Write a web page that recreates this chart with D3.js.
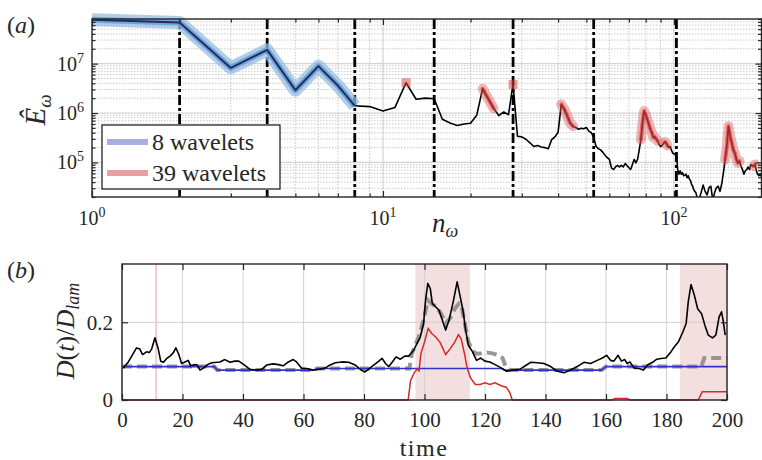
<!DOCTYPE html>
<html>
<head>
<meta charset="utf-8">
<script src="https://cdn.jsdelivr.net/npm/d3@7"></script>
<style>
  body { margin: 0; background: #fff; }
</style>
</head>
<body>
<svg id="fig" width="762" height="460"></svg>
<script>
// ---------- panel (a): energy spectrum ----------
const coarseN = [1, 2, 3, 4, 5, 6, 7, 8];
const coarseE = [7.7e7, 6.8e7, 8.2e6, 1.9e7, 2.9e6, 8.9e6, 3.6e6, 1.4e6];

const modeN = [
  8, 9, 10, 11, 12, 13, 14, 15, 16, 17, 18, 19, 20, 21, 22, 23, 24, 25, 26, 27,
  28, 29, 30, 31, 32, 33, 34, 35, 36, 37, 38, 39, 40, 41, 42, 43, 44, 45, 46, 47,
  48, 49, 50, 51, 52, 53, 54, 55, 56, 57, 58, 59, 60, 61, 62, 63, 64, 65, 66, 67,
  68, 69, 70, 71, 72, 73, 74, 75, 76, 77, 78, 79, 80, 81, 82, 83, 84, 85, 86, 87,
  88, 89, 90, 91, 92, 93, 94, 95, 96, 97, 98, 99, 100, 101, 102, 103, 104, 105, 106, 107,
  108, 109, 110, 111, 112, 113, 114, 115, 116, 117, 118, 119, 120, 122, 124, 126, 128, 130, 132, 134,
  136, 138, 140, 142, 144, 146, 148, 150, 152, 154, 156, 158, 160, 162, 164, 166, 168, 170, 172, 174,
  176, 178, 180, 182, 184, 186, 188, 190, 192, 194, 196, 198, 200
];
const modeE = [
  1.4e6, 1.35e6, 1.1e6, 1.3e6, 4.1e6, 1.9e6, 2.0e6, 1.95e6, 7.5e5, 6.3e5, 5.6e5, 6.0e5, 6.2e5, 9.0e5, 3.1e6, 1.95e6, 1.25e6, 8.9e5, 1.05e6, 9.3e5,
  3.8e6, 3.4e5, 3.3e5, 2.95e5, 2.5e5, 2.1e5, 2.2e5, 2.05e5, 2.0e5, 1.9e5, 2.9e5, 3.3e5, 4.1e5, 1.5e6, 1.2e6, 8.7e5, 6.3e5, 5.4e5, 5.1e5, 4.7e5,
  4.9e5, 4.8e5, 5.1e5, 4.3e5, 4.0e5, 3.2e5, 2.1e5, 1.9e5, 1.8e5, 1.6e5, 1.4e5, 1.25e5, 1.15e5, 7.8e4, 7.2e4, 8.1e4, 8.7e4, 8.1e4, 8.7e4, 8.1e4,
  9.5e4, 8.7e4, 7.8e4, 7.2e4, 9.1e4, 1.15e5, 9.8e4, 1.15e5, 1.8e5, 2.9e5, 6.3e5, 1.1e6, 9.3e5, 7.4e5, 5.9e5, 4.7e5, 4.0e5, 3.2e5, 3.3e5, 2.95e5,
  2.7e5, 2.3e5, 2.1e5, 2.2e5, 2.4e5, 2.6e5, 2.5e5, 2.2e5, 2.0e5, 2.1e5, 1.8e5, 1.55e5, 1.5e5, 1.45e5, 1.55e5, 7.2e4, 5.8e4, 6.8e4, 5.8e4, 6.2e4,
  5.4e4, 5.5e4, 5.8e4, 4.9e4, 5.4e4, 4.6e4, 4.3e4, 3.6e4, 3.3e4, 2.8e4, 2.6e4, 2.45e4, 2.0e4, 1.8e4, 2.45e4, 3.5e4, 2.6e4, 2.2e4, 3.1e4, 3.3e4,
  1.7e4, 2.45e4, 3.1e4, 3.3e4, 2.6e4, 3.7e4, 6.3e4, 1.15e5, 2.1e5, 5.4e5, 3.4e5, 2.5e5, 1.8e5, 1.55e5, 1.15e5, 9.8e4, 1.07e5, 8.5e4, 7.2e4, 5.8e4,
  6.8e4, 7.2e4, 8.1e4, 7.2e4, 9.1e4, 8.5e4, 8.5e4, 9.1e4, 6.8e4, 5.8e4, 5.4e4, 5.8e4, 5.2e4
];

// boundaries between the 8 coarse wavelets
const waveletBounds = [2, 4, 8, 15, 28, 53, 102];
// mode ranges resolved by the 39-wavelet basis
const fineBands = [[12, 12], [22, 24], [28, 28], [41, 45], [77, 88], [93, 95], [150, 168], [188, 190]];

const xMajorA = [1, 10, 100];
const yMajorA = [1e5, 1e6, 1e7];

// ---------- panel (b): dissipation time series ----------
const timeTicks = [0, 20, 40, 60, 80, 100, 120, 140, 160, 180, 200];
const dTicks = [0, 0.2];
const shadeSpans = [[97, 115], [184.5, 200]];
const markTimes = [11.3];

const fullT = [
  0.4, 2.1, 4.8, 5.9, 6.8, 8.1, 9.0, 9.8, 10.9, 12.0, 12.8, 13.7, 14.8, 15.9, 17.0, 17.8, 18.7, 19.7, 20.8, 21.9,
  22.7, 23.8, 24.9, 25.8, 26.9, 28.3, 29.7, 31.3, 32.4, 34.0, 35.7, 37.3, 38.6, 40.3, 42.3, 44.5, 46.2, 47.8, 50.0, 51.7,
  53.3, 55.0, 56.6, 57.7, 59.4, 61.0, 63.2, 65.4, 67.1, 68.3, 70.5, 72.7, 74.9, 77.1, 78.8, 80.2, 81.5, 83.2, 84.6, 86.0,
  87.1, 88.2, 89.3, 90.6, 92.0, 93.5, 94.8, 96.4, 97.5, 98.6, 99.7, 100.4, 101.1, 101.9, 102.6, 103.7, 104.8, 105.9, 107.0, 108.1,
  109.5, 110.8, 111.7, 112.8, 113.6, 114.5, 115.8, 117.2, 118.6, 120.0, 121.6, 123.3, 125.5, 127.1, 129.3, 131.5, 133.7, 135.1, 137.3, 139.5,
  141.7, 143.9, 146.1, 148.3, 150.5, 152.7, 154.9, 157.1, 158.8, 160.2, 161.5, 162.6, 164.0, 165.1, 166.2, 167.0, 167.9, 169.3, 170.9, 172.4,
  173.7, 175.4, 176.8, 178.2, 179.8, 181.3, 182.6, 183.9, 185.4, 186.5, 187.2, 188.1, 189.2, 190.3, 191.6, 192.7, 193.8, 195.2, 196.3, 197.4,
  198.2, 198.8, 199.4
];
const fullD = [
  0.082, 0.098, 0.134, 0.131, 0.117, 0.124, 0.122, 0.131, 0.160, 0.131, 0.100, 0.097, 0.107, 0.113, 0.122, 0.134, 0.119, 0.094, 0.098, 0.102,
  0.088, 0.091, 0.090, 0.077, 0.082, 0.091, 0.096, 0.097, 0.098, 0.104, 0.097, 0.100, 0.100, 0.091, 0.079, 0.077, 0.079, 0.090, 0.093, 0.091,
  0.088, 0.098, 0.104, 0.098, 0.082, 0.081, 0.077, 0.079, 0.082, 0.088, 0.096, 0.098, 0.097, 0.090, 0.079, 0.072, 0.079, 0.090, 0.098, 0.107,
  0.094, 0.086, 0.097, 0.111, 0.105, 0.113, 0.113, 0.128, 0.145, 0.162, 0.197, 0.261, 0.300, 0.287, 0.248, 0.240, 0.231, 0.205, 0.180, 0.205,
  0.253, 0.304, 0.270, 0.227, 0.180, 0.141, 0.125, 0.102, 0.108, 0.100, 0.098, 0.091, 0.082, 0.074, 0.077, 0.079, 0.090, 0.097, 0.096, 0.094,
  0.086, 0.074, 0.070, 0.077, 0.086, 0.097, 0.094, 0.102, 0.108, 0.115, 0.102, 0.100, 0.115, 0.100, 0.104, 0.094, 0.098, 0.082, 0.081, 0.077,
  0.090, 0.097, 0.105, 0.107, 0.108, 0.122, 0.137, 0.149, 0.175, 0.197, 0.253, 0.297, 0.270, 0.235, 0.222, 0.192, 0.167, 0.160, 0.167, 0.214,
  0.227, 0.201, 0.167
];

const coarseT = [0, 30.5, 31.5, 63.5, 64.5, 125.5, 126.5, 158.5, 160, 200];
const coarseD = [0.086, 0.086, 0.077, 0.077, 0.081, 0.081, 0.077, 0.077, 0.086, 0.086];

const modelT = [
  0, 30.5, 31.5, 63.5, 64.5, 95.0, 95.8, 96.6, 98.0, 99.7, 101.1, 102.3, 104.0, 105.7, 107.0, 108.4, 110.0, 111.4, 112.2, 113.4,
  114.5, 115.8, 117.2, 119.0, 120.6, 122.5, 124.2, 125.8, 126.6, 127.5, 128.5, 158.5, 160, 191.5, 192.5, 200
];
const modelD = [
  0.086, 0.086, 0.077, 0.077, 0.081, 0.081, 0.118, 0.135, 0.160, 0.206, 0.257, 0.248, 0.240, 0.219, 0.197, 0.210, 0.235, 0.248, 0.244, 0.193,
  0.150, 0.127, 0.119, 0.120, 0.122, 0.120, 0.116, 0.108, 0.091, 0.080, 0.077, 0.077, 0.086, 0.086, 0.108, 0.108
];

const fineT = [
  0, 94.6, 95.4, 96.6, 97.6, 98.2, 98.8, 100.0, 101.2, 102.4, 103.7, 105.1, 107.0, 108.4, 110.0, 111.2, 112.1, 113.3, 114.1, 115.2,
  116.8, 118.4, 120.0, 121.6, 123.3, 125.5, 127.0, 128.2, 129.0, 162.0, 163.0, 167.0, 168.0, 190.5, 191.8, 200
];
const fineD = [
  0, 0, 0.050, 0.070, 0.080, 0.075, 0.119, 0.149, 0.184, 0.171, 0.162, 0.149, 0.117, 0.131, 0.149, 0.168, 0.158, 0.116, 0.082, 0.057,
  0.040, 0.040, 0.044, 0.040, 0.044, 0.036, 0.033, 0.019, 0, 0, 0.004, 0.004, 0, 0, 0.021, 0.021
];

// ================= drawing =================
const ink = "#262626";
const serifFont = "Liberation Serif";
const svg = d3.select("#fig").attr("font-family", serifFont);

function isDecade(v) {
  const l = Math.log10(v);
  return Math.abs(l - Math.round(l)) < 1e-9;
}

function addText(g) {
  return g.append("text").attr("font-family", serifFont).attr("fill", ink);
}

function powerLabel(sel, exp, size, supSize) {
  sel.append("tspan").attr("font-size", size).text("10");
  sel.append("tspan").attr("font-size", supSize).attr("dy", -8).text(exp);
}

// ---------- panel (a) ----------
const A = { l: 92, r: 761.5, t: 19, b: 197 };
const xA = d3.scaleLog().domain([1, 200]).range([A.l, A.r]);
const yA = d3.scaleLog().domain([2e4, 8e7]).range([A.b, A.t]);

svg.append("clipPath").attr("id", "clipA").append("rect")
  .attr("x", A.l).attr("y", A.t).attr("width", A.r - A.l).attr("height", A.b - A.t);

const gA = svg.append("g");
const gridA = gA.append("g").attr("clip-path", "url(#clipA)");

const xTicksA = xA.ticks();
const yTicksA = yA.ticks();

gridA.selectAll("line.vx").data(xTicksA).join("line")
  .attr("x1", d => xA(d)).attr("x2", d => xA(d)).attr("y1", A.t).attr("y2", A.b)
  .attr("stroke", d => isDecade(d) ? "#d4d4d4" : "#bdbdbd")
  .attr("stroke-width", d => isDecade(d) ? 1.2 : 0.8)
  .attr("stroke-dasharray", d => isDecade(d) ? null : "1.5,1.5");

gridA.selectAll("line.hy").data(yTicksA).join("line")
  .attr("y1", d => yA(d)).attr("y2", d => yA(d)).attr("x1", A.l).attr("x2", A.r)
  .attr("stroke", d => isDecade(d) ? "#d4d4d4" : "#bdbdbd")
  .attr("stroke-width", d => isDecade(d) ? 1.2 : 0.8)
  .attr("stroke-dasharray", d => isDecade(d) ? null : "1.5,1.5");

// wavelet boundaries
gridA.selectAll("line.wb").data(waveletBounds).join("line")
  .attr("x1", d => xA(d)).attr("x2", d => xA(d)).attr("y1", A.t).attr("y2", A.b)
  .attr("stroke", "#000").attr("stroke-width", 2.8)
  .attr("stroke-dasharray", "10,3,3,3");

// full spectrum
const modePts = d3.zip(modeN, modeE);
const lineA = d3.line().x(d => xA(d[0])).y(d => yA(d[1]));
gA.append("path").attr("clip-path", "url(#clipA)")
  .attr("d", lineA(modePts)).attr("fill", "none")
  .attr("stroke", "#000").attr("stroke-width", 1.6).attr("stroke-linejoin", "round");

// 39-wavelet resolved ranges
const gFine = gA.append("g").attr("clip-path", "url(#clipA)");
fineBands.forEach(([a, b]) => {
  const pts = modePts.filter(p => p[0] >= a && p[0] <= b);
  if (pts.length === 1) {
    const [n, e] = pts[0];
    gFine.append("rect").attr("x", xA(n) - 4.5).attr("y", yA(e) - 4.5)
      .attr("width", 9).attr("height", 9).attr("fill", "rgba(220,70,70,0.55)");
  } else {
    gFine.append("path").attr("d", lineA(pts)).attr("fill", "none")
      .attr("stroke", "rgba(225,90,90,0.45)").attr("stroke-width", 10)
      .attr("stroke-linejoin", "round").attr("stroke-linecap", "round");
    gFine.append("path").attr("d", lineA(pts)).attr("fill", "none")
      .attr("stroke", "rgba(200,40,40,0.55)").attr("stroke-width", 4)
      .attr("stroke-linejoin", "round").attr("stroke-linecap", "round");
  }
});

// 8-wavelet spectrum
const coarsePts = d3.zip(coarseN, coarseE);
gA.append("path").attr("d", lineA(coarsePts)).attr("fill", "none")
  .attr("stroke", "rgba(150,190,225,0.75)").attr("stroke-width", 13).attr("stroke-linejoin", "round");
gA.append("path").attr("d", lineA(coarsePts)).attr("fill", "none")
  .attr("stroke", "rgba(95,150,205,0.75)").attr("stroke-width", 6).attr("stroke-linejoin", "round");
gA.append("path").attr("d", lineA(coarsePts)).attr("fill", "none")
  .attr("stroke", "#1b2f66").attr("stroke-width", 2).attr("stroke-linejoin", "round");

// axes (ticks inward on all sides)
function tickAxes(g, xs, ys, box, xMaj, yMaj, xMin, yMin) {
  const add = (axis, tr) => {
    const s = g.append("g").attr("transform", tr).call(axis);
    s.select(".domain").remove();
    s.selectAll(".tick line").attr("stroke", ink).attr("stroke-width", 1.2);
    s.selectAll(".tick text").remove();
  };
  const maj = 6, mn = 3.5;
  add(d3.axisBottom(xs).tickValues(xMaj).tickSize(-maj).tickSizeOuter(0), `translate(0,${box.b})`);
  add(d3.axisTop(xs).tickValues(xMaj).tickSize(-maj).tickSizeOuter(0), `translate(0,${box.t})`);
  add(d3.axisLeft(ys).tickValues(yMaj).tickSize(-maj).tickSizeOuter(0), `translate(${box.l},0)`);
  add(d3.axisRight(ys).tickValues(yMaj).tickSize(-maj).tickSizeOuter(0), `translate(${box.r},0)`);
  if (xMin) {
    add(d3.axisBottom(xs).tickValues(xMin).tickSize(-mn).tickSizeOuter(0), `translate(0,${box.b})`);
    add(d3.axisTop(xs).tickValues(xMin).tickSize(-mn).tickSizeOuter(0), `translate(0,${box.t})`);
  }
  if (yMin) {
    add(d3.axisLeft(ys).tickValues(yMin).tickSize(-mn).tickSizeOuter(0), `translate(${box.l},0)`);
    add(d3.axisRight(ys).tickValues(yMin).tickSize(-mn).tickSizeOuter(0), `translate(${box.r},0)`);
  }
  g.append("rect").attr("x", box.l).attr("y", box.t)
    .attr("width", box.r - box.l).attr("height", box.b - box.t)
    .attr("fill", "none").attr("stroke", ink).attr("stroke-width", 1.4);
}
tickAxes(gA, xA, yA, A, xMajorA, yMajorA,
  xTicksA.filter(d => !isDecade(d)), yTicksA.filter(d => !isDecade(d)));

// tick labels
xMajorA.forEach(v => {
  const t = addText(gA).attr("x", xA(v)).attr("y", A.b + 28).attr("text-anchor", "middle");
  powerLabel(t, Math.round(Math.log10(v)), 20, 14);
});
yMajorA.forEach(v => {
  const t = addText(gA).attr("x", A.l - 8).attr("y", yA(v) + 7).attr("text-anchor", "end");
  powerLabel(t, Math.round(Math.log10(v)), 20, 14);
});

// labels
addText(gA).attr("x", 7).attr("y", 33).attr("font-size", 24)
  .html('(<tspan font-style="italic">a</tspan>)');
const yl = addText(gA).attr("transform", "translate(45,110) rotate(-90)")
  .attr("text-anchor", "middle");
yl.append("tspan").attr("font-size", 29).attr("font-style", "italic").text("Ê");
yl.append("tspan").attr("font-size", 19).attr("font-style", "italic").attr("dy", 6).text("ω");
const xl = addText(gA).attr("x", 445).attr("y", 232).attr("text-anchor", "middle");
xl.append("tspan").attr("font-size", 27).attr("font-style", "italic").text("n");
xl.append("tspan").attr("font-size", 18).attr("font-style", "italic").attr("dy", 5).text("ω");

// legend
const leg = gA.append("g");
leg.append("rect").attr("x", 102).attr("y", 125).attr("width", 178).attr("height", 64)
  .attr("fill", "#fff").attr("stroke", ink).attr("stroke-width", 1.3);
const legItems = [
  { label: "8 wavelets", color: "#a9ade9", y: 142 },
  { label: "39 wavelets", color: "#e8a1a1", y: 173 }
];
legItems.forEach(it => {
  leg.append("line").attr("x1", 107).attr("x2", 148).attr("y1", it.y).attr("y2", it.y)
    .attr("stroke", it.color).attr("stroke-width", 6);
  addText(leg).attr("x", 152).attr("y", it.y + 8).attr("font-size", 24).text(it.label);
});

// ---------- panel (b) ----------
const B = { l: 122, r: 727, t: 264, b: 400 };
const xB = d3.scaleLinear().domain([0, 200]).range([B.l, B.r]);
const yB = d3.scaleLinear().domain([0, 0.35]).range([B.b, B.t]);

svg.append("clipPath").attr("id", "clipB").append("rect")
  .attr("x", B.l).attr("y", B.t - 2).attr("width", B.r - B.l).attr("height", B.b - B.t + 4);

const gB = svg.append("g");

gB.selectAll("rect.shade").data(shadeSpans).join("rect")
  .attr("x", d => xB(d[0])).attr("width", d => xB(d[1]) - xB(d[0]))
  .attr("y", B.t).attr("height", B.b - B.t).attr("fill", "#f3dfdf");
gB.selectAll("line.mark").data(markTimes).join("line")
  .attr("x1", d => xB(d)).attr("x2", d => xB(d)).attr("y1", B.t).attr("y2", B.b)
  .attr("stroke", "#f2cccc").attr("stroke-width", 2);

gB.selectAll("line.gx").data(timeTicks).join("line")
  .attr("x1", d => xB(d)).attr("x2", d => xB(d)).attr("y1", B.t).attr("y2", B.b)
  .attr("stroke", "#d0d0d0").attr("stroke-width", 1.2).attr("stroke-opacity", 0.8);
gB.selectAll("line.gy").data(dTicks).join("line")
  .attr("y1", d => yB(d)).attr("y2", d => yB(d)).attr("x1", B.l).attr("x2", B.r)
  .attr("stroke", "#d0d0d0").attr("stroke-width", 1.2).attr("stroke-opacity", 0.8);

const lineB = d3.line().x(d => xB(d[0])).y(d => yB(d[1]));
const gLines = gB.append("g").attr("clip-path", "url(#clipB)");

gLines.append("path").attr("d", lineB(d3.zip(modelT, modelD))).attr("fill", "none")
  .attr("stroke", "#8c8c8c").attr("stroke-opacity", 0.9).attr("stroke-width", 4)
  .attr("stroke-dasharray", "10,5");
gLines.append("path").attr("d", lineB(d3.zip(coarseT, coarseD))).attr("fill", "none")
  .attr("stroke", "#3232c8").attr("stroke-width", 1.6);
gLines.append("path").attr("d", lineB(d3.zip(fineT, fineD))).attr("fill", "none")
  .attr("stroke", "#d42a2a").attr("stroke-width", 1.5);
gLines.append("path").attr("d", lineB(d3.zip(fullT, fullD))).attr("fill", "none")
  .attr("stroke", "#000").attr("stroke-width", 1.6).attr("stroke-linejoin", "round");

tickAxes(gB, xB, yB, B, timeTicks, dTicks, null, null);

// tick labels via axes
const xAxB = gB.append("g").attr("transform", `translate(0,${B.b})`)
  .call(d3.axisBottom(xB).tickValues(timeTicks).tickSize(0).tickPadding(12));
xAxB.select(".domain").remove();
xAxB.attr("font-family", serifFont);
xAxB.selectAll("text").attr("font-family", serifFont).attr("font-size", 21).attr("fill", ink);

const yAxB = gB.append("g").attr("transform", `translate(${B.l},0)`)
  .call(d3.axisLeft(yB).tickValues(dTicks).tickSize(0).tickPadding(9)
    .tickFormat(d => d === 0 ? "0" : d3.format(".1f")(d)));
yAxB.select(".domain").remove();
yAxB.attr("font-family", serifFont);
yAxB.selectAll("text").attr("font-family", serifFont).attr("font-size", 21).attr("fill", ink);

addText(gB).attr("x", 7).attr("y", 278).attr("font-size", 24)
  .html('(<tspan font-style="italic">b</tspan>)');

const ylb = addText(gB).attr("transform", "translate(74,331) rotate(-90)")
  .attr("text-anchor", "middle").attr("font-size", 26);
ylb.append("tspan").attr("font-style", "italic").text("D");
ylb.append("tspan").text("(");
ylb.append("tspan").attr("font-style", "italic").text("t");
ylb.append("tspan").text(")/");
ylb.append("tspan").attr("font-style", "italic").text("D");
ylb.append("tspan").attr("font-style", "italic").attr("font-size", 18).attr("dy", 5).text("lam");

addText(gB).attr("x", 424).attr("y", 456).attr("text-anchor", "middle")
  .attr("font-size", 24).attr("letter-spacing", 1.5).text("time");
</script>
</body>
</html>
